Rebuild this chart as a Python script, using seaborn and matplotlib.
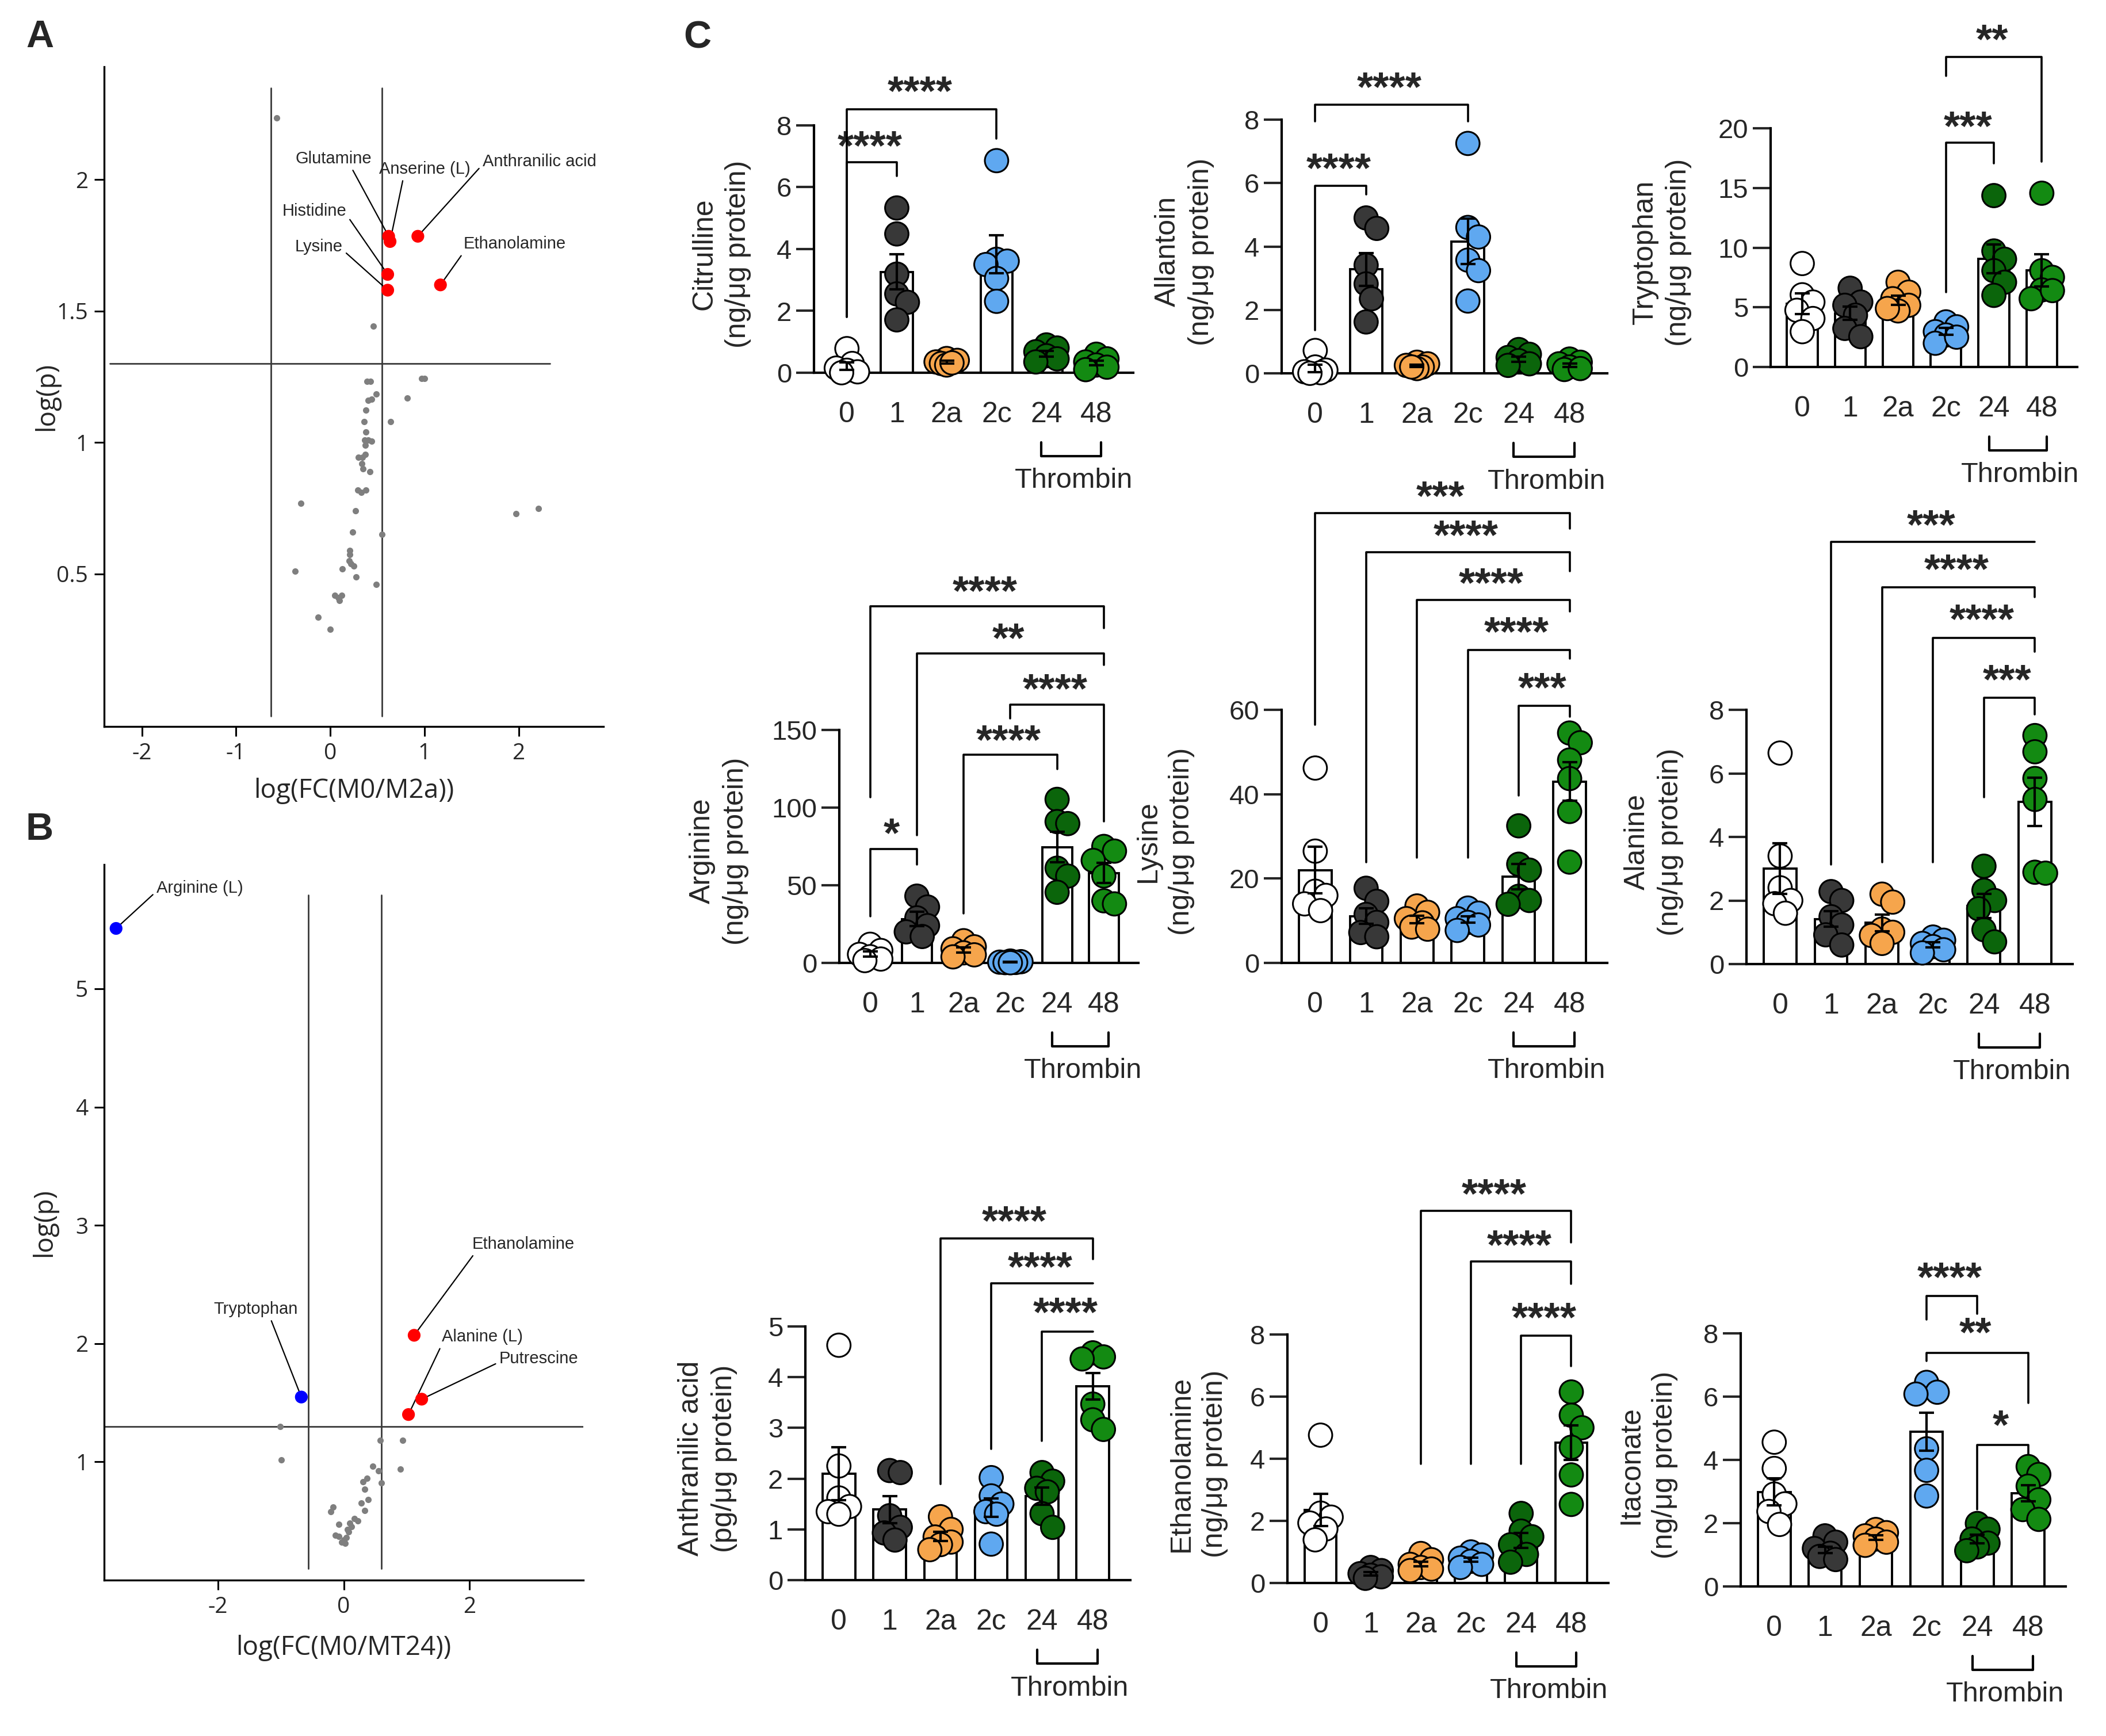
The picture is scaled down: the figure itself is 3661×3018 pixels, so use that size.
import numpy as np
import pandas as pd
import matplotlib
matplotlib.use('Agg')
import matplotlib.pyplot as plt
import seaborn as sns

# ------------------------------------------------------------------ data
# Panel A volcano (log FC M0/M2a vs log p)
A_gray_x = [-0.567, 0.46, 0.39, 0.43, 0.97, 1.0, 0.49, 0.40, 0.44, 0.815, 0.378, 0.36, 0.64,
            0.378, 0.365, 0.40, 0.44, 0.373, 0.30, 0.34, 0.37, 0.335, 0.35, 0.42, 0.29, 0.33,
            0.38, -0.31, 0.266, 0.236, 0.55, 0.206, 0.206, 0.20, 0.22, 0.25, 0.13, 0.275, -0.37,
            0.49, 0.05, 0.086, 0.12, 0.10, -0.13, 0.0, 1.97, 2.21]
A_gray_y = [2.235, 1.444, 1.232, 1.232, 1.244, 1.244, 1.185, 1.16, 1.165, 1.17, 1.123, 1.08, 1.08,
            1.04, 1.01, 1.01, 1.005, 0.99, 0.945, 0.945, 0.955, 0.92, 0.90, 0.89, 0.82, 0.81,
            0.82, 0.77, 0.74, 0.66, 0.65, 0.59, 0.575, 0.55, 0.54, 0.53, 0.52, 0.49, 0.51,
            0.46, 0.42, 0.41, 0.42, 0.40, 0.335, 0.29, 0.73, 0.75]
A_sig_names = ['Glutamine', 'Anserine (L)', 'Anthranilic acid', 'Histidine', 'Lysine', 'Ethanolamine']
A_sig_x = [0.62, 0.635, 0.93, 0.61, 0.61, 1.17]
A_sig_y = [1.785, 1.765, 1.785, 1.64, 1.58, 1.60]
A_sig_dir = ['up', 'up', 'up', 'up', 'up', 'up']

# Panel B volcano (log FC M0/MT24 vs log p)
B_gray_x = [-1.01, -0.99, 0.58, 0.94, 0.90, 0.46, 0.55, 0.60, 0.31, 0.37, 0.33, 0.385, 0.28, 0.33,
            -0.17, -0.21, -0.08, 0.17, 0.22, 0.12, 0.08, -0.13, -0.08, 0.0, 0.04, -0.03, 0.02,
            0.10, 0.06]
B_gray_y = [1.30, 1.015, 1.18, 1.18, 0.94, 0.965, 0.925, 0.82, 0.83, 0.86, 0.77, 0.68, 0.65, 0.59,
            0.62, 0.58, 0.47, 0.52, 0.50, 0.45, 0.41, 0.38, 0.37, 0.34, 0.36, 0.32, 0.31,
            0.48, 0.43]
B_sig_names = ['Arginine (L)', 'Tryptophan', 'Ethanolamine', 'Alanine (L)', 'Putrescine']
B_sig_x = [-3.62, -0.674, 1.12, 1.03, 1.24]
B_sig_y = [5.51, 1.548, 2.07, 1.40, 1.53]
B_sig_dir = ['down', 'down', 'up', 'up', 'up']

# Panel C: groups
groups = ['0', '1', '2a', '2c', '24', '48']

citrulline_mean = [0.22, 3.26, 0.35, 3.83, 0.62, 0.32]
citrulline_sem = [0.12, 0.57, 0.05, 0.62, 0.09, 0.07]
citrulline_pts = [[0.78, 0.30, 0.15, 0.08, 0.03, 0.0],
                  [5.33, 4.49, 3.19, 2.55, 2.28, 1.71],
                  [0.46, 0.40, 0.35, 0.30, 0.25, 0.32],
                  [6.86, 3.67, 3.61, 3.50, 3.05, 2.31],
                  [0.90, 0.80, 0.68, 0.55, 0.45, 0.35],
                  [0.60, 0.45, 0.35, 0.25, 0.18, 0.10]]
citrulline_sig = [(0, 3, '****'), (0, 1, '****')]

allantoin_mean = [0.15, 3.28, 0.24, 4.16, 0.45, 0.25]
allantoin_sem = [0.12, 0.52, 0.04, 0.72, 0.08, 0.05]
allantoin_pts = [[0.72, 0.20, 0.10, 0.05, 0.02, 0.0],
                 [4.90, 4.57, 3.41, 2.82, 2.35, 1.62],
                 [0.35, 0.30, 0.25, 0.20, 0.15, 0.20],
                 [7.25, 4.60, 4.30, 3.57, 3.24, 2.28],
                 [0.75, 0.60, 0.50, 0.40, 0.30, 0.25],
                 [0.45, 0.35, 0.30, 0.20, 0.12, 0.15]]
allantoin_sig = [(0, 3, '****'), (0, 1, '****')]

tryptophan_mean = [5.3, 4.5, 5.6, 3.0, 9.05, 8.1]
tryptophan_sem = [0.85, 0.55, 0.4, 0.28, 1.2, 1.35]
tryptophan_pts = [[8.67, 6.05, 5.44, 4.75, 4.06, 2.96],
                  [6.60, 5.44, 5.17, 4.34, 3.23, 2.54],
                  [7.10, 6.27, 5.72, 5.17, 4.70, 4.90],
                  [3.78, 3.37, 2.96, 2.68, 1.99, 2.50],
                  [14.36, 9.72, 9.03, 8.07, 7.10, 6.00],
                  [14.56, 8.07, 7.51, 6.46, 5.72, 6.40]]
tryptophan_sig = [(3, 5, '**'), (3, 4, '***')]

arginine_mean = [5.8, 28.3, 8.4, 0.6, 74.5, 57.8]
arginine_sem = [1.7, 4.5, 1.6, 0.2, 9.8, 6.5]
arginine_pts = [[12.0, 8.0, 5.5, 4.0, 2.5, 1.5],
                [43.0, 36.0, 29.0, 24.0, 20.0, 17.0],
                [14.3, 10.4, 9.1, 6.5, 5.2, 3.9],
                [1.2, 0.8, 0.5, 0.3, 0.2, 0.1],
                [105.3, 91.0, 89.7, 61.0, 55.9, 45.5],
                [75.0, 72.0, 66.0, 56.0, 40.0, 38.0]]
arginine_sig = [(0, 5, '****'), (1, 5, '**'), (3, 5, '****'), (2, 4, '****'), (0, 1, '*')]

lysine_mean = [22.0, 11.1, 10.3, 10.3, 20.4, 43.0]
lysine_sem = [5.5, 1.8, 0.9, 0.8, 3.0, 4.6]
lysine_pts = [[46.2, 26.5, 17.0, 16.0, 14.0, 12.4],
              [17.7, 14.6, 11.5, 9.6, 7.2, 6.2],
              [13.5, 12.0, 10.5, 9.5, 8.5, 8.0],
              [13.0, 11.8, 10.5, 9.6, 9.0, 7.7],
              [32.5, 23.4, 22.0, 15.8, 14.8, 13.9],
              [54.5, 52.2, 48.1, 43.7, 35.9, 23.9]]
lysine_sig = [(0, 5, '***'), (1, 5, '****'), (2, 5, '****'), (3, 5, '****'), (4, 5, '***')]

alanine_mean = [3.0, 1.42, 1.3, 0.6, 1.82, 5.1]
alanine_sem = [0.8, 0.25, 0.26, 0.08, 0.38, 0.76]
alanine_pts = [[6.64, 3.40, 2.40, 2.00, 1.90, 1.60],
               [2.28, 2.00, 1.49, 1.23, 0.92, 0.60],
               [2.20, 1.95, 1.10, 1.00, 0.90, 0.65],
               [0.85, 0.75, 0.65, 0.55, 0.45, 0.35],
               [3.08, 2.32, 2.00, 1.74, 1.08, 0.70],
               [7.19, 6.68, 5.84, 5.18, 2.89, 2.86]]
alanine_sig = [(1, 5, '***'), (2, 5, '****'), (3, 5, '****'), (4, 5, '***')]

anthranilic_mean = [2.1, 1.39, 0.86, 1.43, 1.66, 3.82]
anthranilic_sem = [0.52, 0.27, 0.09, 0.18, 0.17, 0.26]
anthranilic_pts = [[4.63, 2.25, 1.62, 1.45, 1.35, 1.30],
                   [2.16, 2.12, 1.27, 1.04, 0.93, 0.79],
                   [1.25, 1.00, 0.85, 0.75, 0.70, 0.60],
                   [2.02, 1.66, 1.50, 1.35, 1.30, 0.71],
                   [2.12, 1.95, 1.81, 1.74, 1.31, 1.04],
                   [4.48, 4.40, 4.36, 3.47, 3.16, 2.97]]
anthranilic_sig = [(2, 5, '****'), (3, 5, '****'), (4, 5, '****')]

ethanolamine_mean = [2.35, 0.3, 0.61, 0.75, 1.37, 4.52]
ethanolamine_sem = [0.52, 0.05, 0.08, 0.07, 0.24, 0.55]
ethanolamine_pts = [[4.76, 2.25, 2.12, 1.93, 1.74, 1.39],
                    [0.50, 0.40, 0.30, 0.25, 0.20, 0.15],
                    [0.95, 0.75, 0.60, 0.50, 0.45, 0.40],
                    [1.00, 0.90, 0.80, 0.70, 0.60, 0.50],
                    [2.24, 1.67, 1.49, 1.23, 0.92, 0.67],
                    [6.15, 5.40, 5.00, 4.37, 3.48, 2.53]]
ethanolamine_sig = [(2, 5, '****'), (3, 5, '****'), (4, 5, '****')]

itaconate_mean = [2.99, 1.15, 1.55, 4.9, 1.5, 2.95]
itaconate_sem = [0.43, 0.1, 0.07, 0.6, 0.13, 0.25]
itaconate_pts = [[4.56, 3.73, 2.92, 2.61, 2.37, 1.96],
                 [1.60, 1.40, 1.20, 1.05, 0.95, 0.85],
                 [1.80, 1.70, 1.60, 1.50, 1.40, 1.30],
                 [6.45, 6.14, 6.08, 4.35, 3.67, 2.86],
                 [1.99, 1.81, 1.50, 1.37, 1.25, 1.13],
                 [3.79, 3.54, 3.17, 2.74, 2.43, 2.12]]
itaconate_sig = [(3, 4, '****'), (3, 5, '**'), (4, 5, '*')]

# ------------------------------------------------------------------ style / layout
W, H, DPI = 3662, 3018, 200
sns.set_theme(style='ticks')
plt.rcParams['font.family'] = ['Liberation Sans', 'DejaVu Sans']
plt.rcParams['axes.linewidth'] = 1.5

PAL = {'0': 'white', '1': '#383838', '2a': '#F6A54C', '2c': '#5FA8F0',
       '24': '#0B650B', '48': '#138A12'}
VOLC_FONT = ['Open Sans', 'DejaVu Sans']
FS_STAR = 26
FS_YTICK = 17
FS_XTICK = 18

fig = plt.figure(figsize=(W / DPI, H / DPI), dpi=DPI)
fig.patch.set_facecolor('white')


def add_ax(left, right, top, bottom):
    return fig.add_axes([left / W, 1 - bottom / H, (right - left) / W, (bottom - top) / H])


# ------------------------------------------------------------------ volcano panels
def volcano(ax, gx, gy, sx, sy, sdir, names, lab_pos, xlim, ylim, xticks, yticks, ytl,
            vlines, vspan, hspan, xlabel, xlab_frac, ylab_frac):
    ax.set_facecolor('white')
    sns.scatterplot(x=gx, y=gy, color='#7f7f7f', s=16, linewidth=0, ax=ax, zorder=3)
    sns.scatterplot(x=sx, y=sy, hue=sdir, palette={'up': '#ff0000', 'down': '#0000ff'},
                    s=64, linewidth=0, ax=ax, legend=False, zorder=4)
    for v in vlines:
        ax.plot([v, v], vspan, color='#3a3a3a', lw=1.0, zorder=2)
    ax.plot(hspan, [1.3, 1.3], color='#3a3a3a', lw=1.0, zorder=2)
    for nm, px, py, (tx, ty, rp) in zip(names, sx, sy, lab_pos):
        ax.annotate(nm, xy=(px, py), xytext=(tx, ty), ha='center', va='center', fontsize=10.5,
                    annotation_clip=False,
                    arrowprops=dict(arrowstyle='-', color='black', lw=0.8, relpos=rp,
                                    shrinkA=0, shrinkB=3.5))
    ax.set_xlim(*xlim)
    ax.set_ylim(*ylim)
    ax.set_xticks(xticks, labels=[str(t) for t in xticks])
    ax.set_yticks(yticks, labels=ytl)
    for t in ax.get_xticklabels() + ax.get_yticklabels():
        t.set_family(VOLC_FONT)
        t.set_fontsize(14)
    ax.tick_params(direction='out', length=6, width=1.1, color='black', pad=4)
    for s in ['top', 'right']:
        ax.spines[s].set_visible(False)
    for s in ['left', 'bottom']:
        ax.spines[s].set_linewidth(1.2)
        ax.spines[s].set_color('black')
    ax.set_xlabel(xlabel, family=VOLC_FONT, fontsize=16.5, va='center')
    ax.set_ylabel('log(p)', family=VOLC_FONT, fontsize=16.5, va='center')
    ax.xaxis.set_label_coords(0.5, xlab_frac)
    ax.yaxis.set_label_coords(ylab_frac, 0.5)
    ax.grid(False)


axA = add_ax(181, 1049, 116, 1263)
A_labels = [(0.034, 2.08, (0.73, 0.0)), (1.0, 2.04, (0.27, 0.0)), (2.22, 2.07, (0.0, 0.3)),
            (-0.17, 1.88, (1.0, 0.3)), (-0.12, 1.745, (1.0, 0.3)), (1.96, 1.755, (0.0, 0.0))]
volcano(axA, A_gray_x, A_gray_y, A_sig_x, A_sig_y, A_sig_dir, A_sig_names, A_labels,
        (-2.40, 2.90), (-0.08, 2.43), [-2, -1, 0, 1, 2], [0.5, 1, 1.5, 2],
        ['0.5', '1', '1.5', '2'], [-0.63, 0.55], (-0.04, 2.35), (-2.34, 2.33),
        'log(FC(M0/M2a))', -112 / 1147, -100 / 868)

axB = add_ax(181, 1014, 1503, 2747)
B_labels = [(-2.29, 5.85, (0.0, 0.3)), (-1.40, 2.29, (0.67, 0.0)), (2.86, 2.84, (0.03, 0.0)),
            (2.2, 2.055, (0.0, 0.0)), (3.1, 1.87, (0.0, 0.3))]
volcano(axB, B_gray_x, B_gray_y, B_sig_x, B_sig_y, B_sig_dir, B_sig_names, B_labels,
        (-3.81, 3.81), (0.0, 6.05), [-2, 0, 2], [1, 2, 3, 4, 5],
        ['1', '2', '3', '4', '5'], [-0.565, 0.60], (0.095, 5.79), (-3.81, 3.81),
        'log(FC(M0/MT24))', -118 / 1244, -104 / 833)


# ------------------------------------------------------------------ bar panels
def swarm(vals, ppy, ppx, D=42.0, mind=0.62, step=0.22, cap=0.27):
    vals = np.asarray(vals, float)
    order = np.argsort(-vals)
    cands = [0.0]
    k = 1
    while k * step * D / ppx <= cap + 1e-9:
        cands += [k * step * D, -k * step * D]
        k += 1
    placed = []
    offs = np.zeros(len(vals))
    for i in order:
        y = vals[i] * ppy
        best, bestd = 0.0, -1.0
        for c in cands:
            d = min([np.hypot(c - px, y - py) for px, py in placed], default=1e9)
            if d >= mind * D:
                best = c
                break
            if d > bestd:
                bestd, best = d, c
        offs[i] = best / ppx
        placed.append((best, y))
    return offs


XLIM = (-0.66, 5.74)


def bar_panel(box, ylabel, ylab_x, ymax, ystep, means, sems, pts, sig, sig_pos):
    left, right, top, bottom = box
    ax = add_ax(left, right, top, bottom)
    ax.set_facecolor('white')
    hpx = bottom - top
    ppy = hpx / ymax
    ppx = (right - left) / (XLIM[1] - XLIM[0])
    xs = np.arange(len(groups))
    sns.barplot(x=xs, y=means, native_scale=True, orient='x', color='white', saturation=1,
                edgecolor='black', linewidth=1.4, width=0.64, errorbar=None, ax=ax, zorder=1)
    rows = []
    for gi, vals in enumerate(pts):
        offs = swarm(vals, ppy, ppx)
        for v, o in zip(vals, offs):
            rows.append((gi + o, v, groups[gi]))
    df = pd.DataFrame(rows, columns=['pos', 'val', 'grp'])
    sns.scatterplot(data=df, x='pos', y='val', hue='grp', hue_order=groups, palette=PAL,
                    s=215, edgecolor='black', linewidth=1.1, legend=False, ax=ax, zorder=3,
                    clip_on=False)
    ax.errorbar(xs, means, yerr=sems, fmt='none', ecolor='black', elinewidth=1.5, capsize=4.8,
                capthick=1.5, zorder=4, clip_on=False)
    ax.set_xlim(*XLIM)
    ax.set_ylim(0, ymax)
    yt = np.arange(0, ymax + ystep / 2, ystep)
    ax.set_yticks(yt, labels=[f'{int(round(t))}' for t in yt])
    ax.set_xticks(xs, labels=groups)
    ax.tick_params(axis='y', direction='out', length=11, width=1.5, labelsize=FS_YTICK, pad=3)
    ax.tick_params(axis='x', length=0, labelsize=FS_XTICK, pad=18)
    for s in ['top', 'right']:
        ax.spines[s].set_visible(False)
    for s in ['left', 'bottom']:
        ax.spines[s].set_linewidth(1.5)
        ax.spines[s].set_color('black')
    ax.set_xlabel('')
    ax.set_ylabel(ylabel, fontsize=18, va='center', linespacing=1.35)
    ax.yaxis.set_label_coords((ylab_x - left) / (right - left), 0.48)
    ax.grid(False)
    # Thrombin bracket
    tr = ax.get_xaxis_transform()
    ax.plot([3.9, 3.9, 5.1, 5.1], [-121 / hpx, -145 / hpx, -145 / hpx, -121 / hpx],
            transform=tr, clip_on=False, color='black', lw=1.5)
    ax.text(4.55, -188 / hpx, 'Thrombin', transform=tr, ha='center', va='center',
            fontsize=17.5)
    # significance brackets
    for (g1, g2, lab), (yb, yl, yr, ytx) in zip(sig, sig_pos):
        ax.plot([g1, g1, g2, g2], [yl, yb, yb, yr], color='black', lw=1.3, clip_on=False,
                zorder=5)
        ax.annotate(lab, xy=((g1 + g2) / 2 - 0.04, ytx), xytext=(0, -0.575 * FS_STAR),
                    textcoords='offset points', ha='center', va='baseline', fontsize=FS_STAR,
                    fontweight='bold', annotation_clip=False)
    return ax


PROT = '(ng/\u03bcg protein)'
bar_panel((1415, 1970, 218, 648), 'Citrulline\n' + PROT, 1254, 8, 2,
          citrulline_mean, citrulline_sem, citrulline_pts, citrulline_sig,
          [(8.53, 1.8, 7.57, 9.44), (6.80, 1.8, 6.37, 7.68)])
bar_panel((2228, 2794, 208, 649), 'Allantoin\n' + PROT, 2059, 8, 2,
          allantoin_mean, allantoin_sem, allantoin_pts, allantoin_sig,
          [(8.47, 7.95, 7.95, 9.36), (5.92, 1.36, 5.65, 6.8)])
bar_panel((3078, 3611, 223, 638), 'Tryptophan\n' + PROT, 2889, 20, 5,
          tryptophan_mean, tryptophan_sem, tryptophan_pts, tryptophan_sig,
          [(26.0, 24.4, 17.2, 28.3), (18.78, 6.27, 17.04, 21.05)])
bar_panel((1459, 1979, 1269, 1674), 'Arginine\n' + PROT, 1250, 150, 50,
          arginine_mean, arginine_sem, arginine_pts, arginine_sig,
          [(229.5, 106.6, 215.7, 246), (199.4, 82.4, 191.8, 215.7), (166.4, 157.3, 91, 183.3),
           (133.9, 32, 124.8, 150), (73.3, 29.9, 63.2, 90.2)])
bar_panel((2228, 2794, 1234, 1674), 'Lysine\n' + PROT, 2025, 60, 20,
          lysine_mean, lysine_sem, lysine_pts, lysine_sig,
          [(106.7, 56.5, 102.9, 113.1), (97.3, 23.9, 92.8, 103.8), (86.1, 24.9, 83.3, 92.5),
           (74.2, 24.9, 72.2, 80.9), (61, 39.7, 58.4, 67.7)])
bar_panel((3036, 3603, 1234, 1676), 'Alanine\n' + PROT, 2875, 8, 2,
          alanine_mean, alanine_sem, alanine_pts, alanine_sig,
          [(13.28, 3.14, 13.28, 14.15), (11.86, 3.2, 11.54, 12.75), (10.27, 3.2, 9.82, 11.18),
           (8.38, 5.24, 7.85, 9.27)])
bar_panel((1400, 1965, 2306, 2747), 'Anthranilic acid\n(pg/\u03bcg protein)', 1230, 5, 1,
          anthranilic_mean, anthranilic_sem, anthranilic_pts, anthranilic_sig,
          [(6.74, 1.89, 6.33, 7.29), (5.85, 2.58, 5.85, 6.38), (4.9, 2.74, 4.9, 5.48)])
bar_panel((2238, 2796, 2320, 2752), 'Ethanolamine\n' + PROT, 2083, 8, 2,
          ethanolamine_mean, ethanolamine_sem, ethanolamine_pts, ethanolamine_sig,
          [(11.99, 3.84, 10.96, 12.87), (10.35, 3.84, 9.63, 11.21), (7.96, 3.84, 6.99, 8.88)])
bar_panel((3026, 3591, 2318, 2758), 'Itaconate\n' + PROT, 2865, 8, 2,
          itaconate_mean, itaconate_sem, itaconate_pts, itaconate_sig,
          [(9.18, 8.43, 8.62, 10.1), (7.38, 7.13, 5.8, 8.35), (4.47, 2.43, 4.19, 5.42)])

# panel letters
for lab, x, y in [('A', 69, 65), ('B', 69, 1443), ('C', 1212, 66)]:
    fig.text(x / W, 1 - y / H, lab, fontsize=24, fontweight='bold', ha='center', va='center')

fig.savefig('out.png', dpi=DPI, facecolor='white')
